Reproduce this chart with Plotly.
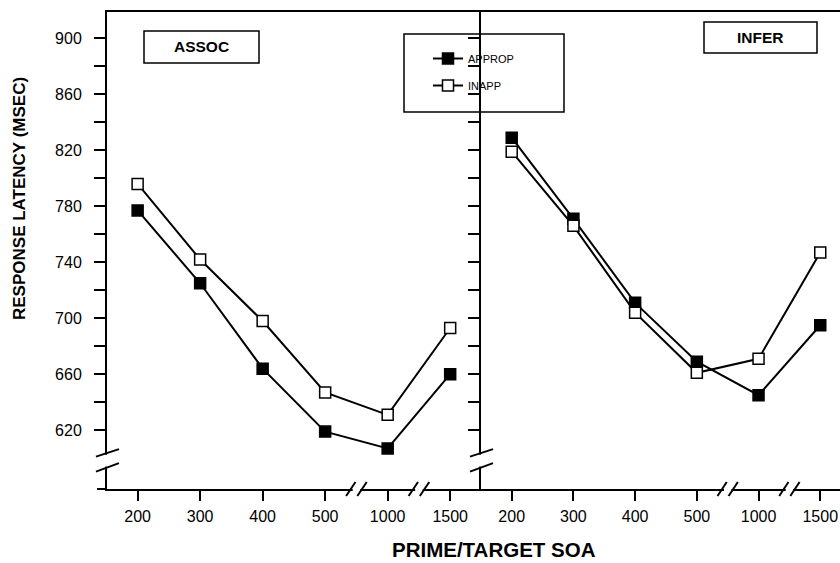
import plotly.graph_objects as go

# ---- data ----
soa_labels = ["200", "300", "400", "500", "1000", "1500"]
assoc_approp = [777, 725, 664, 619, 607, 660]
assoc_inapp = [796, 742, 698, 647, 631, 693]
infer_approp = [829, 771, 711, 669, 645, 695]
infer_inapp = [819, 766, 704, 661, 671, 747]
y_tickvals = list(range(620, 901, 20))
y_ticktext = [str(v) if v % 40 == 20 else "" for v in y_tickvals]

# ---- geometry (pixels) ----
W, H = 840, 563
ML, MR, MT, MB = 107, 0, 12, 74
PW, PH = W - ML - MR, H - MT - MB
MID = 481  # pixel x of the panel divider


def fx(p):
    return (p - ML) / PW


def fy(p):
    return (H - MB - p) / PH


FONT = "Liberation Sans, Arial, sans-serif"
fig = go.Figure()

line_w = 2
common = dict(mode="lines+markers", line=dict(color="black", width=line_w))

fig.add_trace(go.Scatter(x=soa_labels, y=assoc_approp, name="APPROP", xaxis="x", yaxis="y",
                         marker=dict(symbol="square", size=11, color="black",
                                     line=dict(color="black", width=1.5)),
                         legendgroup="a", **common))
fig.add_trace(go.Scatter(x=soa_labels, y=assoc_inapp, name="INAPP", xaxis="x", yaxis="y",
                         marker=dict(symbol="square", size=11, color="white",
                                     line=dict(color="black", width=1.5)),
                         legendgroup="b", **common))
fig.add_trace(go.Scatter(x=soa_labels, y=infer_approp, name="APPROP", xaxis="x2", yaxis="y2",
                         marker=dict(symbol="square", size=11, color="black",
                                     line=dict(color="black", width=1.5)),
                         showlegend=False, **common))
fig.add_trace(go.Scatter(x=soa_labels, y=infer_inapp, name="INAPP", xaxis="x2", yaxis="y2",
                         marker=dict(symbol="square", size=11, color="white",
                                     line=dict(color="black", width=1.5)),
                         showlegend=False, **common))

yr = [578, 918.8]
xcommon = dict(type="category", showline=True, linecolor="black", linewidth=line_w, mirror=True,
               ticks="outside", ticklen=10, tickwidth=1.5, tickcolor="black",
               showgrid=False, zeroline=False, ticklabelstandoff=2, tickangle=0,
               automargin=False,
               tickfont=dict(family=FONT, size=16, color="black"))
ycommon = dict(range=yr, showline=True, linecolor="black", linewidth=line_w,
               ticks="outside", ticklen=11, tickwidth=1.5, tickcolor="black",
               showgrid=False, zeroline=False, tickvals=y_tickvals, automargin=False,
               tickfont=dict(family=FONT, size=16, color="black"))

d1 = fx(MID)
fig.update_layout(
    width=W, height=H,
    margin=dict(l=ML, r=MR, t=MT, b=MB, autoexpand=False),
    paper_bgcolor="white", plot_bgcolor="white",
    xaxis=dict(domain=[0, d1], range=[-0.49, 5.493], anchor="y", **xcommon),
    xaxis2=dict(domain=[d1, 1], range=[-0.4976, 5.32], anchor="y2", **xcommon),
    yaxis=dict(domain=[0, 1], anchor="x", ticktext=y_ticktext, ticklabelstandoff=9, **ycommon),
    yaxis2=dict(domain=[0, 1], anchor="x2", showticklabels=False, **ycommon),
    showlegend=True,
    legend=dict(xref="container", yref="container", x=428 / W, y=1 - 44 / H,
                xanchor="left", yanchor="top", bgcolor="rgba(0,0,0,0)",
                font=dict(family=FONT, size=11, color="black"),
                tracegroupgap=8, itemclick=False),
)

shapes = []
annots = []

# legend frame
shapes.append(dict(type="rect", xref="paper", yref="paper", x0=fx(404), x1=fx(564),
                   y0=fy(112), y1=fy(34), line=dict(color="black", width=1.5),
                   fillcolor="white", layer="below"))

# panel label boxes
for (x0, y0, x1, y1, txt) in [(144, 31, 259, 63, "ASSOC"), (704, 22, 817, 53, "INFER")]:
    shapes.append(dict(type="rect", xref="paper", yref="paper", x0=fx(x0), x1=fx(x1),
                       y0=fy(y1), y1=fy(y0), line=dict(color="black", width=1.5),
                       fillcolor="white"))
    annots.append(dict(text="<b>" + txt + "</b>", xref="paper", yref="paper",
                       x=fx((x0 + x1) / 2), y=fy((y0 + y1) / 2), showarrow=False,
                       xanchor="center", yanchor="middle",
                       font=dict(family=FONT, size=15.5, color="black")))

# y-axis breaks (at left axis and at divider)
for ax_px in (ML, MID):
    shapes.append(dict(type="rect", xref="paper", yref="y", x0=fx(ax_px - 3), x1=fx(ax_px + 3),
                       y0=594, y1=602.5, line=dict(width=0), fillcolor="white", layer="above"))
    for (yl, yr_) in [(601.1, 606.5), (590.4, 596.5)]:
        shapes.append(dict(type="line", xref="paper", yref="y",
                           x0=fx(ax_px - 11), x1=fx(ax_px + 12), y0=yl, y1=yr_,
                           line=dict(color="black", width=2), layer="above"))

# x-axis breaks
for xa in ("x", "x2"):
    for c in (3.5, 4.5):
        shapes.append(dict(type="rect", xref=xa, yref="paper", x0=c - 0.06, x1=c + 0.06,
                           y0=fy(H - MB + 3), y1=fy(H - MB - 3), line=dict(width=0),
                           fillcolor="white", layer="above"))
        for off in (-0.09, 0.09):
            shapes.append(dict(type="line", xref=xa, yref="paper",
                               x0=c + off - 0.075, x1=c + off + 0.075,
                               y0=fy(H - MB + 7), y1=fy(H - MB - 7),
                               line=dict(color="black", width=2), layer="above"))

# small extension of the x-axis line left of the y-axis
shapes.append(dict(type="line", xref="paper", yref="paper", x0=fx(97), x1=fx(ML),
                   y0=0, y1=0, line=dict(color="black", width=line_w)))

# axis titles
annots.append(dict(text="<b>RESPONSE LATENCY (MSEC)</b>", xref="paper", yref="paper",
                   x=fx(20), y=fy(199), showarrow=False, textangle=-90,
                   xanchor="center", yanchor="middle",
                   font=dict(family=FONT, size=17, color="black")))
annots.append(dict(text="<b>PRIME/TARGET SOA</b>", xref="paper", yref="paper",
                   x=fx(494), y=fy(549), showarrow=False,
                   xanchor="center", yanchor="middle",
                   font=dict(family=FONT, size=20.5, color="black")))

fig.update_layout(shapes=shapes, annotations=annots)
fig.write_html("out.html",
               config={"displayModeBar": False},
               post_script="document.body.style.margin='0px';"
                           "document.body.style.overflow='hidden';")
